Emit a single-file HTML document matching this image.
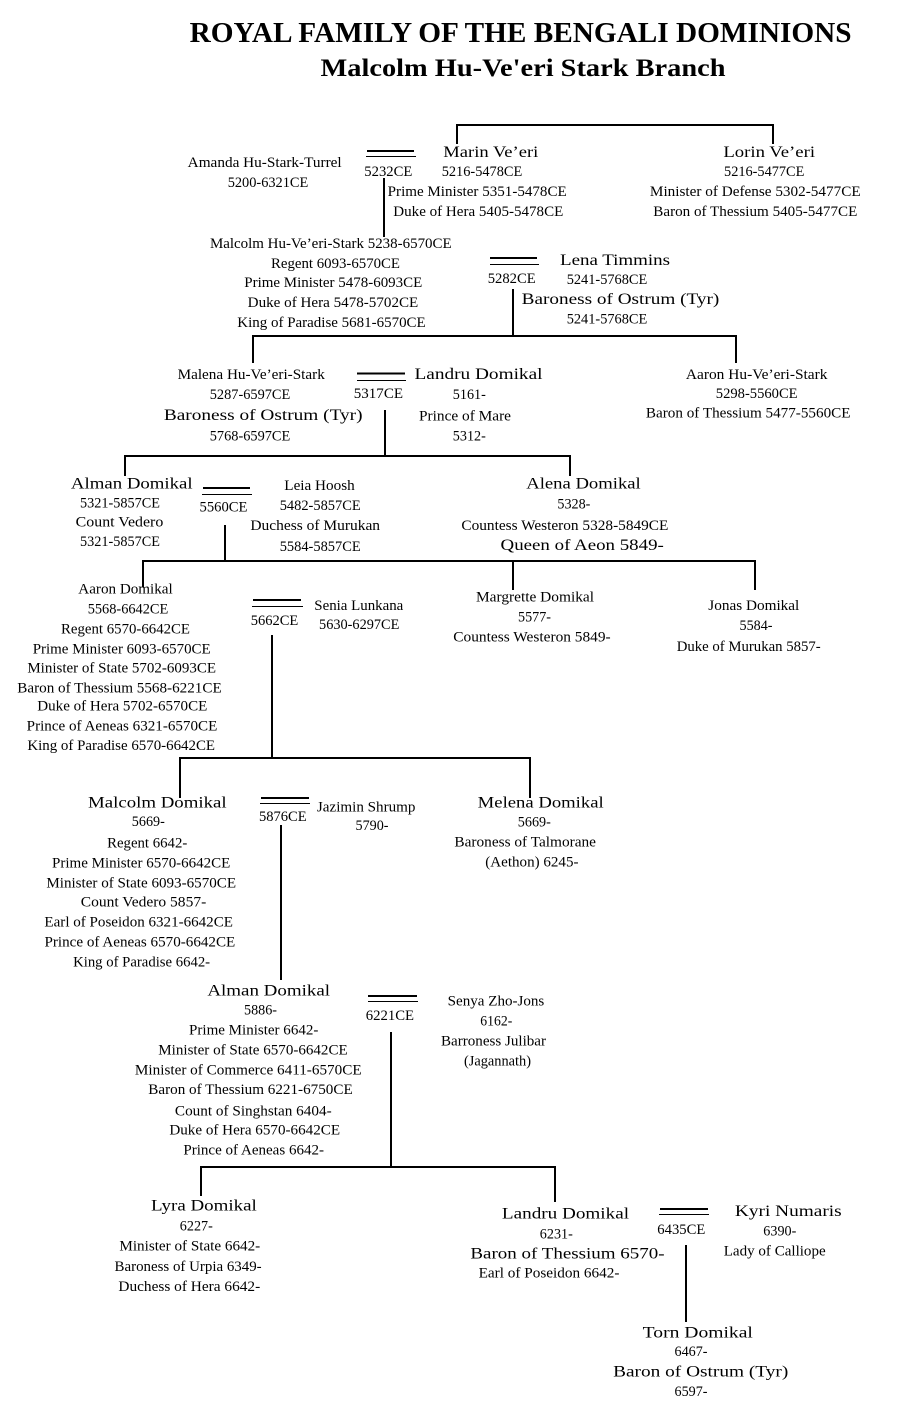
<!DOCTYPE html>
<html><head><meta charset="utf-8"><style>
html,body{margin:0;padding:0;background:#fff;}
svg{display:block;}
text{font-family:"Liberation Serif",serif;font-size:15px;fill:#000;text-anchor:middle;}
.t1{font-weight:bold;font-size:28px;}
.t2{font-weight:bold;font-size:25px;}
.n{font-size:15.5px;}
</style></head><body>
<svg width="907" height="1409" viewBox="0 0 907 1409" xmlns="http://www.w3.org/2000/svg">
<text class="t1" x="520.6" y="42" textLength="662" lengthAdjust="spacingAndGlyphs">ROYAL FAMILY OF THE BENGALI DOMINIONS</text>
<text class="t2" x="523" y="76" textLength="405" lengthAdjust="spacingAndGlyphs">Malcolm Hu-Ve'eri Stark Branch</text>

<g fill="none" stroke="#000" stroke-width="2">
<path d="M457,144 V125 H773 V144"/>
<path d="M384,178 V237"/>
<path d="M513,289 V336"/>
<path d="M253,363 V336 H736 V363"/>
<path d="M385,410 V456"/>
<path d="M125,476 V456 H570 V476"/>
<path d="M225,525 V561"/>
<path d="M143,587 V561 H755 V590"/>
<path d="M513,561 V590"/>
<path d="M272,635 V758"/>
<path d="M180,798 V758 H530 V798"/>
<path d="M281,825 V980"/>
<path d="M391,1032 V1167"/>
<path d="M201,1196 V1167 H555 V1202"/>
<path d="M686,1245 V1322"/>
</g>
<g stroke="#000" fill="none">
<path stroke-width="2" d="M367,151 H414"/><path stroke-width="1" d="M366,156.5 H416"/>
<path stroke-width="2" d="M490,258 H537"/><path stroke-width="1" d="M490,264.5 H539"/>
<path stroke-width="2" d="M357,373.5 H405"/><path stroke-width="1" d="M357,380.5 H406"/>
<path stroke-width="2" d="M203,488 H250"/><path stroke-width="1" d="M202,494.5 H252"/>
<path stroke-width="2" d="M253,600 H301"/><path stroke-width="1" d="M252,606.5 H303"/>
<path stroke-width="2" d="M261,798 H309"/><path stroke-width="1" d="M260,803.5 H310"/>
<path stroke-width="2" d="M368,996 H417"/><path stroke-width="1" d="M368,1001.5 H418"/>
<path stroke-width="2" d="M660,1209 H708"/><path stroke-width="1" d="M659,1214.5 H709"/>
</g>

<!-- top -->
<text x="264.7" y="167" textLength="154" lengthAdjust="spacingAndGlyphs">Amanda Hu-Stark-Turrel</text>
<text x="268" y="187" textLength="80.6" lengthAdjust="spacingAndGlyphs">5200-6321CE</text>
<text x="388.3" y="176" textLength="48" lengthAdjust="spacingAndGlyphs">5232CE</text>
<text class="n" x="490.8" y="157" textLength="95" lengthAdjust="spacingAndGlyphs">Marin Ve’eri</text>
<text x="482" y="176" textLength="80.6" lengthAdjust="spacingAndGlyphs">5216-5478CE</text>
<text x="477.2" y="196" textLength="179" lengthAdjust="spacingAndGlyphs">Prime Minister 5351-5478CE</text>
<text x="478.3" y="216" textLength="170" lengthAdjust="spacingAndGlyphs">Duke of Hera 5405-5478CE</text>
<text class="n" x="769.2" y="157" textLength="91.7" lengthAdjust="spacingAndGlyphs">Lorin Ve’eri</text>
<text x="764.2" y="176" textLength="80.3" lengthAdjust="spacingAndGlyphs">5216-5477CE</text>
<text x="755.3" y="196" textLength="210.7" lengthAdjust="spacingAndGlyphs">Minister of Defense 5302-5477CE</text>
<text x="755.3" y="216" textLength="204" lengthAdjust="spacingAndGlyphs">Baron of Thessium 5405-5477CE</text>
<text x="330.8" y="248" textLength="241.7" lengthAdjust="spacingAndGlyphs">Malcolm Hu-Ve’eri-Stark 5238-6570CE</text>
<text x="335.5" y="268" textLength="129" lengthAdjust="spacingAndGlyphs">Regent 6093-6570CE</text>
<text x="333.3" y="287" textLength="178" lengthAdjust="spacingAndGlyphs">Prime Minister 5478-6093CE</text>
<text x="333" y="307" textLength="170.6" lengthAdjust="spacingAndGlyphs">Duke of Hera 5478-5702CE</text>
<text x="331.5" y="327" textLength="188.4" lengthAdjust="spacingAndGlyphs">King of Paradise 5681-6570CE</text>
<text x="511.7" y="283" textLength="48" lengthAdjust="spacingAndGlyphs">5282CE</text>
<text class="n" x="615" y="265" textLength="110" lengthAdjust="spacingAndGlyphs">Lena Timmins</text>
<text x="607" y="284" textLength="80.6" lengthAdjust="spacingAndGlyphs">5241-5768CE</text>
<text class="n" x="620.5" y="304" textLength="197.6" lengthAdjust="spacingAndGlyphs">Baroness of Ostrum (Tyr)</text>
<text x="607" y="323.5" textLength="80.6" lengthAdjust="spacingAndGlyphs">5241-5768CE</text>

<!-- row 2 -->
<text x="251.2" y="379" textLength="147.2" lengthAdjust="spacingAndGlyphs">Malena Hu-Ve’eri-Stark</text>
<text x="250" y="399" textLength="80.5" lengthAdjust="spacingAndGlyphs">5287-6597CE</text>
<text class="n" x="263.2" y="420" textLength="198.7" lengthAdjust="spacingAndGlyphs">Baroness of Ostrum (Tyr)</text>
<text x="250" y="440.5" textLength="80.5" lengthAdjust="spacingAndGlyphs">5768-6597CE</text>
<text x="378.4" y="398" textLength="49.2" lengthAdjust="spacingAndGlyphs">5317CE</text>
<text class="n" x="478.5" y="379" textLength="128" lengthAdjust="spacingAndGlyphs">Landru Domikal</text>
<text x="469.3" y="399" textLength="33" lengthAdjust="spacingAndGlyphs">5161-</text>
<text x="465" y="420.5" textLength="92" lengthAdjust="spacingAndGlyphs">Prince of Mare</text>
<text x="469.3" y="440.5" textLength="33" lengthAdjust="spacingAndGlyphs">5312-</text>
<text x="756.7" y="379" textLength="141.6" lengthAdjust="spacingAndGlyphs">Aaron Hu-Ve’eri-Stark</text>
<text x="756.7" y="398" textLength="81.8" lengthAdjust="spacingAndGlyphs">5298-5560CE</text>
<text x="748.2" y="417.5" textLength="204.6" lengthAdjust="spacingAndGlyphs">Baron of Thessium 5477-5560CE</text>

<!-- row 3 -->
<text class="n" x="131.8" y="488.3" textLength="121.7" lengthAdjust="spacingAndGlyphs">Alman Domikal</text>
<text x="120" y="507.7" textLength="80" lengthAdjust="spacingAndGlyphs">5321-5857CE</text>
<text x="119.5" y="526.7" textLength="87.6" lengthAdjust="spacingAndGlyphs">Count Vedero</text>
<text x="120" y="546" textLength="80" lengthAdjust="spacingAndGlyphs">5321-5857CE</text>
<text x="223.5" y="511.5" textLength="48" lengthAdjust="spacingAndGlyphs">5560CE</text>
<text x="319.5" y="490" textLength="70.4" lengthAdjust="spacingAndGlyphs">Leia Hoosh</text>
<text x="320.2" y="510" textLength="81" lengthAdjust="spacingAndGlyphs">5482-5857CE</text>
<text x="315.2" y="530" textLength="129.7" lengthAdjust="spacingAndGlyphs">Duchess of Murukan</text>
<text x="320.2" y="551" textLength="81" lengthAdjust="spacingAndGlyphs">5584-5857CE</text>
<text class="n" x="583.5" y="488.3" textLength="114.5" lengthAdjust="spacingAndGlyphs">Alena Domikal</text>
<text x="573.9" y="508.3" textLength="33" lengthAdjust="spacingAndGlyphs">5328-</text>
<text x="564.9" y="530" textLength="207" lengthAdjust="spacingAndGlyphs">Countess Westeron 5328-5849CE</text>
<text class="n" x="582.2" y="550" textLength="163.3" lengthAdjust="spacingAndGlyphs">Queen of Aeon 5849-</text>

<!-- row 4 -->
<text x="125.5" y="593.3" textLength="94.4" lengthAdjust="spacingAndGlyphs">Aaron Domikal</text>
<text x="128" y="613.3" textLength="80.6" lengthAdjust="spacingAndGlyphs">5568-6642CE</text>
<text x="125.5" y="633.3" textLength="129" lengthAdjust="spacingAndGlyphs">Regent 6570-6642CE</text>
<text x="121.7" y="653.3" textLength="178" lengthAdjust="spacingAndGlyphs">Prime Minister 6093-6570CE</text>
<text x="121.7" y="672.3" textLength="188.7" lengthAdjust="spacingAndGlyphs">Minister of State 5702-6093CE</text>
<text x="119.5" y="692.3" textLength="204.4" lengthAdjust="spacingAndGlyphs">Baron of Thessium 5568-6221CE</text>
<text x="122.3" y="710.7" textLength="170" lengthAdjust="spacingAndGlyphs">Duke of Hera 5702-6570CE</text>
<text x="122" y="730.7" textLength="190.6" lengthAdjust="spacingAndGlyphs">Prince of Aeneas 6321-6570CE</text>
<text x="121.2" y="750" textLength="187.7" lengthAdjust="spacingAndGlyphs">King of Paradise 6570-6642CE</text>
<text x="274.5" y="625" textLength="47.6" lengthAdjust="spacingAndGlyphs">5662CE</text>
<text x="358.8" y="610" textLength="89" lengthAdjust="spacingAndGlyphs">Senia Lunkana</text>
<text x="359.2" y="629" textLength="80.3" lengthAdjust="spacingAndGlyphs">5630-6297CE</text>
<text x="535" y="601.7" textLength="118" lengthAdjust="spacingAndGlyphs">Margrette Domikal</text>
<text x="534.5" y="621.7" textLength="33" lengthAdjust="spacingAndGlyphs">5577-</text>
<text x="532" y="641.7" textLength="157.4" lengthAdjust="spacingAndGlyphs">Countess Westeron 5849-</text>
<text x="753.8" y="610" textLength="91" lengthAdjust="spacingAndGlyphs">Jonas Domikal</text>
<text x="756" y="630" textLength="33" lengthAdjust="spacingAndGlyphs">5584-</text>
<text x="748.7" y="651" textLength="144" lengthAdjust="spacingAndGlyphs">Duke of Murukan 5857-</text>

<!-- row 5 -->
<text class="n" x="157.3" y="807.3" textLength="138.6" lengthAdjust="spacingAndGlyphs">Malcolm Domikal</text>
<text x="148.3" y="826" textLength="33" lengthAdjust="spacingAndGlyphs">5669-</text>
<text x="147.2" y="847.3" textLength="80.2" lengthAdjust="spacingAndGlyphs">Regent 6642-</text>
<text x="141.2" y="867.3" textLength="178.3" lengthAdjust="spacingAndGlyphs">Prime Minister 6570-6642CE</text>
<text x="141.2" y="887.3" textLength="189.7" lengthAdjust="spacingAndGlyphs">Minister of State 6093-6570CE</text>
<text x="143.5" y="906.7" textLength="125.5" lengthAdjust="spacingAndGlyphs">Count Vedero 5857-</text>
<text x="138.7" y="926.7" textLength="188.5" lengthAdjust="spacingAndGlyphs">Earl of Poseidon 6321-6642CE</text>
<text x="139.9" y="946.7" textLength="190.8" lengthAdjust="spacingAndGlyphs">Prince of Aeneas 6570-6642CE</text>
<text x="141.6" y="966.7" textLength="137" lengthAdjust="spacingAndGlyphs">King of Paradise 6642-</text>
<text x="282.8" y="821" textLength="47.7" lengthAdjust="spacingAndGlyphs">5876CE</text>
<text x="366.2" y="811.7" textLength="98.5" lengthAdjust="spacingAndGlyphs">Jazimin Shrump</text>
<text x="372" y="830" textLength="33" lengthAdjust="spacingAndGlyphs">5790-</text>
<text class="n" x="540.7" y="807.3" textLength="126" lengthAdjust="spacingAndGlyphs">Melena Domikal</text>
<text x="534.3" y="826.7" textLength="33" lengthAdjust="spacingAndGlyphs">5669-</text>
<text x="525.2" y="846.7" textLength="141.6" lengthAdjust="spacingAndGlyphs">Baroness of Talmorane</text>
<text x="531.9" y="866.7" textLength="93.2" lengthAdjust="spacingAndGlyphs">(Aethon) 6245-</text>

<!-- row 6 -->
<text class="n" x="268.7" y="995.7" textLength="122.7" lengthAdjust="spacingAndGlyphs">Alman Domikal</text>
<text x="260.5" y="1014.3" textLength="33" lengthAdjust="spacingAndGlyphs">5886-</text>
<text x="253.7" y="1034.3" textLength="129.3" lengthAdjust="spacingAndGlyphs">Prime Minister 6642-</text>
<text x="253" y="1054.3" textLength="189.4" lengthAdjust="spacingAndGlyphs">Minister of State 6570-6642CE</text>
<text x="248.3" y="1074.3" textLength="226.7" lengthAdjust="spacingAndGlyphs">Minister of Commerce 6411-6570CE</text>
<text x="250.5" y="1094" textLength="204.4" lengthAdjust="spacingAndGlyphs">Baron of Thessium 6221-6750CE</text>
<text x="253.3" y="1115.7" textLength="156.7" lengthAdjust="spacingAndGlyphs">Count of Singhstan 6404-</text>
<text x="254.7" y="1134.3" textLength="170.7" lengthAdjust="spacingAndGlyphs">Duke of Hera 6570-6642CE</text>
<text x="253.7" y="1154.3" textLength="140.7" lengthAdjust="spacingAndGlyphs">Prince of Aeneas 6642-</text>
<text x="389.9" y="1020" textLength="48.3" lengthAdjust="spacingAndGlyphs">6221CE</text>
<text x="496" y="1005.7" textLength="96.6" lengthAdjust="spacingAndGlyphs">Senya Zho-Jons</text>
<text x="496.3" y="1025.7" textLength="32" lengthAdjust="spacingAndGlyphs">6162-</text>
<text x="493.5" y="1045.7" textLength="105" lengthAdjust="spacingAndGlyphs">Barroness Julibar</text>
<text x="497.5" y="1065.7" textLength="67" lengthAdjust="spacingAndGlyphs">(Jagannath)</text>

<!-- row 7 -->
<text class="n" x="203.9" y="1210.7" textLength="105.8" lengthAdjust="spacingAndGlyphs">Lyra Domikal</text>
<text x="196.3" y="1230.7" textLength="33" lengthAdjust="spacingAndGlyphs">6227-</text>
<text x="189.8" y="1250.7" textLength="140.8" lengthAdjust="spacingAndGlyphs">Minister of State 6642-</text>
<text x="188.1" y="1271" textLength="147.1" lengthAdjust="spacingAndGlyphs">Baroness of Urpia 6349-</text>
<text x="189.3" y="1291" textLength="141.8" lengthAdjust="spacingAndGlyphs">Duchess of Hera 6642-</text>
<text class="n" x="565.5" y="1218.3" textLength="127.1" lengthAdjust="spacingAndGlyphs">Landru Domikal</text>
<text x="556.3" y="1238.3" textLength="33" lengthAdjust="spacingAndGlyphs">6231-</text>
<text class="n" x="567.5" y="1258.3" textLength="194.2" lengthAdjust="spacingAndGlyphs">Baron of Thessium 6570-</text>
<text x="549" y="1277.3" textLength="140.8" lengthAdjust="spacingAndGlyphs">Earl of Poseidon 6642-</text>
<text x="681.3" y="1234" textLength="48" lengthAdjust="spacingAndGlyphs">6435CE</text>
<text class="n" x="788.3" y="1216" textLength="106.7" lengthAdjust="spacingAndGlyphs">Kyri Numaris</text>
<text x="779.8" y="1235.7" textLength="33" lengthAdjust="spacingAndGlyphs">6390-</text>
<text x="774.7" y="1255.7" textLength="101.9" lengthAdjust="spacingAndGlyphs">Lady of Calliope</text>
<text class="n" x="697.8" y="1337.3" textLength="110.2" lengthAdjust="spacingAndGlyphs">Torn Domikal</text>
<text x="691" y="1356" textLength="33" lengthAdjust="spacingAndGlyphs">6467-</text>
<text class="n" x="700.7" y="1376.7" textLength="175.2" lengthAdjust="spacingAndGlyphs">Baron of Ostrum (Tyr)</text>
<text x="691" y="1396" textLength="33" lengthAdjust="spacingAndGlyphs">6597-</text>
</svg>
</body></html>
